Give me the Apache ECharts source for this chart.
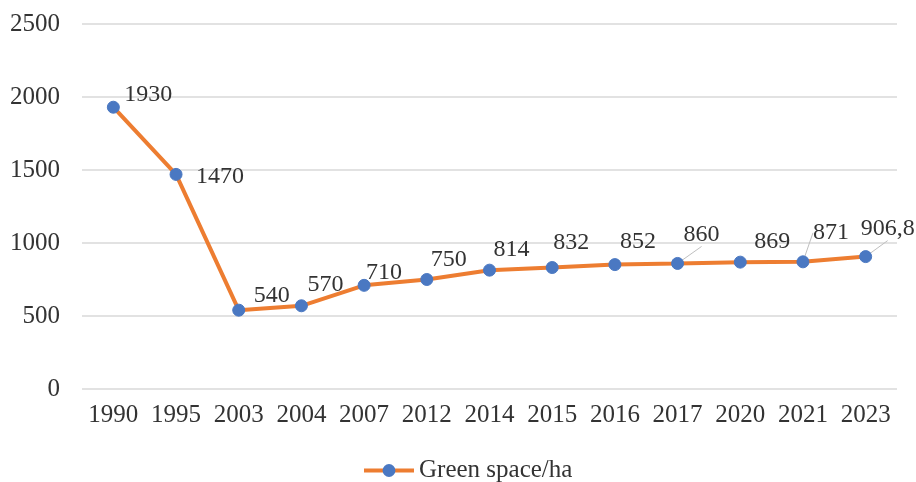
<!DOCTYPE html>
<html>
<head>
<meta charset="utf-8">
<script src="https://cdn.jsdelivr.net/npm/echarts@6/dist/echarts.min.js"></script>
<style>
  html, body { margin: 0; padding: 0; background: #ffffff; }
  #chart { width: 916px; height: 482px; }
</style>
</head>
<body>
<div id="chart"></div>
<script>
// Green space area by year (hectares)
const years = ['1990', '1995', '2003', '2004', '2007', '2012', '2014', '2015', '2016', '2017', '2020', '2021', '2023'];
const greenSpace = [1930, 1470, 540, 570, 710, 750, 814, 832, 852, 860, 869, 871, 906.8];
const seriesName = 'Green space/ha';

// Label placement relative to each marker (dx, dy in px) and which labels get a guide line
const labelShift = [
  [35, -13], [44, 2], [33, -14], [24, -21], [20, -13], [22, -20], [22, -20],
  [19, -25], [23, -23], [24, -29], [32, -20], [28, -29], [22, -28]
];
const withGuide = [false, false, false, false, false, false, false, false, false, true, false, true, true];

const FONT = '"Liberation Serif", "Times New Roman", serif';
const TEXT = '#333333';

const chart = echarts.init(document.getElementById('chart'), null, { renderer: 'canvas' });

chart.setOption({
  animation: false,
  backgroundColor: '#ffffff',
  textStyle: { fontFamily: FONT },
  grid: { left: 82, right: 19, top: 24, bottom: 93, containLabel: false },
  legend: {
    data: [seriesName],
    left: 357,
    top: 453,
    itemWidth: 50,
    itemHeight: 16,
    itemGap: 10,
    lineStyle: { width: 4 },
    textStyle: { fontFamily: FONT, fontSize: 25, color: TEXT }
  },
  xAxis: {
    type: 'category',
    data: years,
    boundaryGap: true,
    axisLine: { show: false },
    axisTick: { show: false },
    axisLabel: { fontFamily: FONT, fontSize: 25, color: TEXT, margin: 14, interval: 0 }
  },
  yAxis: {
    type: 'value',
    min: 0,
    max: 2500,
    interval: 500,
    axisLine: { show: false },
    axisTick: { show: false },
    splitLine: { lineStyle: { color: '#d9d9d9', width: 1.5 } },
    axisLabel: { fontFamily: FONT, fontSize: 25, color: TEXT, margin: 22, formatter: v => String(v) }
  },
  series: [{
    name: seriesName,
    type: 'line',
    data: greenSpace.map((v, i) => ({
      value: v,
      labelLine: { show: withGuide[i] }
    })),
    symbol: 'circle',
    symbolSize: 12,
    lineStyle: { color: '#ED7D31', width: 4 },
    itemStyle: { color: '#4A78C2', borderColor: '#4A78C2' },
    label: {
      show: true,
      position: 'inside',
      fontFamily: FONT,
      fontSize: 24,
      color: TEXT,
      formatter: p => String(p.value).replace('.', ',')
    },
    labelLine: {
      show: false,
      lineStyle: { color: '#bfbfbf', width: 1 }
    },
    labelLayout: p => ({ dx: labelShift[p.dataIndex][0], dy: labelShift[p.dataIndex][1] }),
    z: 3
  }]
});
</script>
</body>
</html>
